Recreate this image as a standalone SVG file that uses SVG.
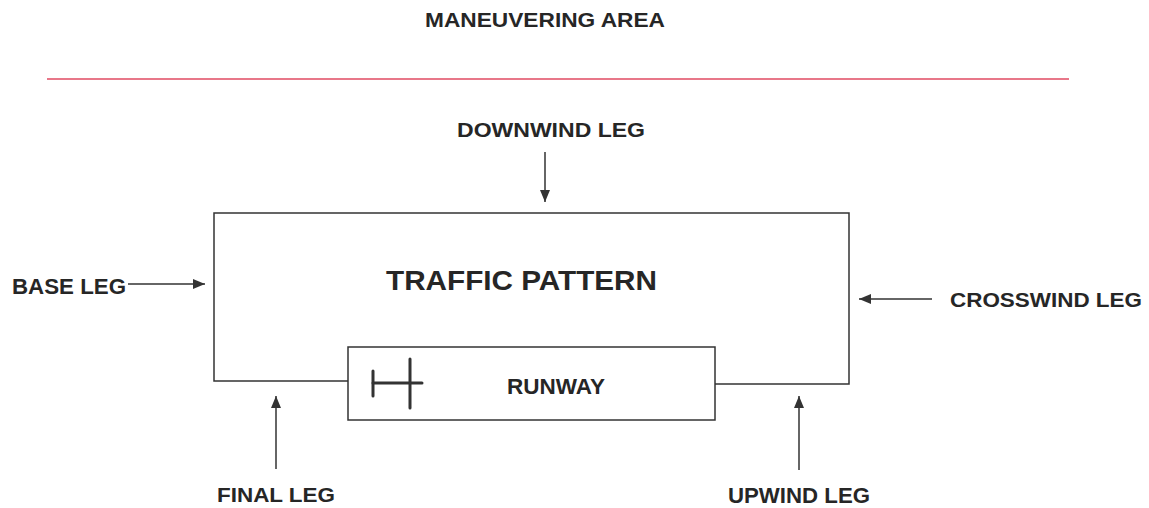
<svg xmlns="http://www.w3.org/2000/svg" width="1149" height="508" viewBox="0 0 1149 508">
<style>
.t{font-family:"Liberation Sans",Arial,sans-serif;font-weight:bold;fill:#262626;}
.ln{stroke:#333;stroke-width:1.5;fill:none;}
.ar{stroke:#333;stroke-width:1.5;fill:none;marker-end:url(#ah);}
</style>
<defs>
<marker id="ah" markerUnits="userSpaceOnUse" markerWidth="12" markerHeight="10" refX="12" refY="5" orient="auto">
<path d="M0,0 L12,5 L0,10 z" fill="#333"/>
</marker>
</defs>
<rect width="1149" height="508" fill="#fff"/>
<g id="maneuvering-area">
<text class="t" x="425" y="27" font-size="20" textLength="240" lengthAdjust="spacingAndGlyphs">MANEUVERING AREA</text>
<line x1="47" y1="79" x2="1069" y2="79" stroke="#e04a62" stroke-width="1.3"/>
</g>
<g id="traffic-pattern">
<path class="ln" d="M348,381 H214 V213 H849 V384 H715"/>
<text class="t" x="386" y="290" font-size="28" textLength="271" lengthAdjust="spacingAndGlyphs">TRAFFIC PATTERN</text>
</g>
<g id="runway">
<rect class="ln" x="348" y="347" width="367" height="73"/>
<g stroke="#333" stroke-width="3" stroke-linecap="round">
<line x1="373" y1="371" x2="373" y2="396"/>
<line x1="373" y1="383" x2="422" y2="383"/>
<line x1="410" y1="359" x2="410" y2="408"/>
</g>
<text class="t" x="507" y="394" font-size="22" textLength="98" lengthAdjust="spacingAndGlyphs">RUNWAY</text>
</g>
<g id="downwind-leg">
<text class="t" x="457" y="137" font-size="21" textLength="188" lengthAdjust="spacingAndGlyphs">DOWNWIND LEG</text>
</g>
<g id="base-leg">
<text class="t" x="12" y="294" font-size="22" textLength="114" lengthAdjust="spacingAndGlyphs">BASE LEG</text>
</g>
<g id="crosswind-leg">
<text class="t" x="950" y="307" font-size="21" textLength="192" lengthAdjust="spacingAndGlyphs">CROSSWIND LEG</text>
</g>
<g id="final-leg">
<text class="t" x="217" y="502" font-size="21" textLength="118" lengthAdjust="spacingAndGlyphs">FINAL LEG</text>
</g>
<g id="upwind-leg">
<text class="t" x="728" y="503" font-size="22" textLength="142" lengthAdjust="spacingAndGlyphs">UPWIND LEG</text>
</g>
<g id="connectors">
<line class="ar" x1="545" y1="152" x2="545" y2="202"/>
<line class="ar" x1="128" y1="284" x2="205" y2="284"/>
<line class="ar" x1="932" y1="299" x2="859" y2="299"/>
<line class="ar" x1="276" y1="469" x2="276" y2="396"/>
<line class="ar" x1="799" y1="470" x2="799" y2="396"/>
</g>
</svg>
